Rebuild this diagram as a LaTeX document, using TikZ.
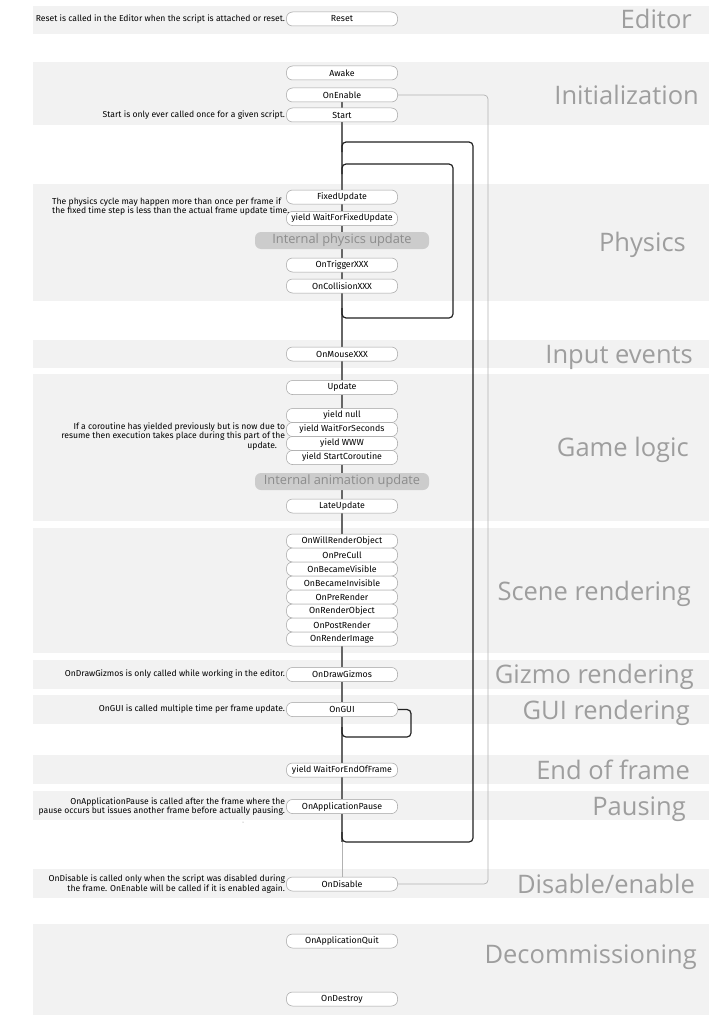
\documentclass[tikz,border=0pt]{standalone}
\usepackage{fontspec}
\setmainfont{Fira Sans}
\newfontfamily\stagefont{Open Sans}
\usetikzlibrary{calc}
\usetikzlibrary{positioning}
\colorlet{bandbg}{black!5}
\colorlet{boxedge}{black!37}
\colorlet{wiregray}{black!60}
\colorlet{cyclegray}{black!87}
\colorlet{togglegray}{black!30}
\colorlet{internalbg}{black!20}
\colorlet{stagegray}{black!38}
\pgfdeclarelayer{back}
\pgfdeclarelayer{wires}
\pgfsetlayers{back,wires,main}

\begin{document}
\begin{tikzpicture}[x=1pt,y=-1pt,
    fn/.style={draw=boxedge,line width=0.5pt,fill=white,rounded corners=6pt,
      minimum width=111pt,minimum height=14pt,inner sep=0pt,
      font=\fontsize{8.8}{10}\selectfont},
    internal/.style={fill=internalbg,rounded corners=6pt,minimum width=174pt,
      minimum height=17pt,inner sep=0pt,text=black!45,
      font=\stagefont\fontsize{12.8}{14}\selectfont},
    note/.style={anchor=east,align=right,inner sep=1pt,
      font=\fontsize{8.6}{9.8}\selectfont},
    stage/.style={anchor=base east,inner sep=0pt,text=stagegray,
      font=\stagefont\fontsize{25.5}{28}\selectfont},
    mainwire/.style={draw=wiregray,line width=1.1pt},
    cyclewire/.style={draw=cyclegray,line width=1.2pt,rounded corners=4pt},
    enablewire/.style={draw=togglegray,line width=0.7pt,rounded corners=4pt}]
  \useasboundingbox (0,0) rectangle (726,1022);
  % Background bands
  \begin{pgfonlayer}{back}
    \foreach \top/\bot in {6/34,62/125,184/301,340/368,374/521,528/653,
        660/689,695/724,755/784,791/820,869/898,924/1015}
      \fill[bandbg] (33,\top) rectangle (709,\bot);
  \end{pgfonlayer}
  % Stage titles
  \foreach \x/\y/\t [count=\i] in {692/19/Editor,699/95/Initialization,
      686/242/Physics,693/354/Input events,689/447/Game logic,
      691/591/Scene rendering,694/674/Gizmo rendering,690/710/GUI rendering,
      690/770/End of frame,686/806/Pausing,695/884/{Disable/enable},
      697/954/Decommissioning}
    \node[stage] (stage\i) at (\x,\y+9.1) {\t};
  % Functions
  \node[fn] (Reset) at (342,19) {Reset};
  \node[fn] (Awake) at (342,73) {Awake};
  \node[fn] (OnEnable) at (342,95) {OnEnable};
  \node[fn] (Start) at (342,115) {Start};
  \node[fn] (FixedUpdate) at (342,197) {FixedUpdate};
  \node[fn] (WaitFixed) at (342,218.5) {yield WaitForFixedUpdate};
  \node[internal] (IntPhysics) at (342,240.5) {Internal physics update};
  \node[fn] (OnTrigger) at (342,265) {OnTriggerXXX};
  \node[fn] (OnCollision) at (342,286) {OnCollisionXXX};
  \node[fn] (OnMouse) at (342,354) {OnMouseXXX};
  \node[fn] (Update) at (342,387.5) {Update};
  \node[fn] (YieldNull) at (342,415.5) {yield null};
  \node[fn] (YieldSeconds) at (342,429.5) {yield WaitForSeconds};
  \node[fn] (YieldWWW) at (342,443.5) {yield WWW};
  \node[fn] (YieldCoroutine) at (342,457.5) {yield StartCoroutine};
  \node[internal] (IntAnim) at (342,481.5) {Internal animation update};
  \node[fn] (LateUpdate) at (342,506) {LateUpdate};
  \foreach \f [count=\i from 0] in {OnWillRenderObject,OnPreCull,
      OnBecameVisible,OnBecameInvisible,OnPreRender,OnRenderObject,
      OnPostRender,OnRenderImage}
    \node[fn] (\f) at (342,541+14*\i) {\f};
  \node[fn] (OnDrawGizmos) at (342,674.5) {OnDrawGizmos};
  \node[fn] (OnGUI) at (342,709.5) {OnGUI};
  \node[fn] (WaitEndFrame) at (342,770) {yield WaitForEndOfFrame};
  \node[fn] (OnAppPause) at (342,806.5) {OnApplicationPause};
  \node[fn] (OnDisable) at (342,884) {OnDisable};
  \node[fn] (OnAppQuit) at (342,941) {OnApplicationQuit};
  \node[fn] (OnDestroy) at (342,999) {OnDestroy};
  % Notes
  \node[note] (noteReset) at (Reset.west)
    {Reset is called in the Editor when the script is attached or reset.};
  \node[note] (noteStart) at (Start.west)
    {Start is only ever called once for a given script.};
  \node[note,anchor=west,align=left] (notePhysics) at (51,206.5)
    {The physics cycle may happen more than once per frame if\\
     the fixed time step is less than the actual frame update time.};
  \node[note] (noteCoroutine) at ($(YieldSeconds.west)!0.5!(YieldWWW.west)$)
    {If a coroutine has yielded previously but is now due to\\
     resume then execution takes place during this part of the\\
     update.\hspace*{8pt}};
  \node[note] (noteGizmos) at (OnDrawGizmos.west)
    {OnDrawGizmos is only called while working in the editor.};
  \node[note] (noteGUI) at (OnGUI.west)
    {OnGUI is called multiple time per frame update.};
  \node[note] (notePause) at (OnAppPause.west)
    {OnApplicationPause is called after the frame where the\\
     pause occurs but issues another frame before actually pausing.};
  \node[note] (noteDisable) at (OnDisable.west)
    {OnDisable is called only when the script was disabled during\\
     the frame. OnEnable will be called if it is enabled again.};
  \fill[black!50] (243,822) circle (0.5pt);
  % Loop corners
  \coordinate (frameNW) at (342,142);
  \coordinate (frameNE) at (473,142);
  \coordinate (frameSE) at (473,842);
  \coordinate (frameSW) at (342,842);
  \coordinate (physNW) at (342,164);
  \coordinate (physNE) at (453,164);
  \coordinate (physSE) at (453,318);
  \coordinate (physSW) at (342,318);
  \coordinate (guiNE) at (411,709.5);
  \coordinate (guiSE) at (411,737);
  \coordinate (guiSW) at (342,737);
  \coordinate (toggleN) at (488,95);
  \coordinate (toggleS) at (488,884);
  % Wires
  \begin{pgfonlayer}{wires}
    \draw[mainwire] (OnEnable) -- (Start) -- (FixedUpdate) -- (WaitFixed)
      -- (IntPhysics) -- (OnTrigger) -- (OnCollision) -- (OnMouse)
      -- (Update) -- (YieldNull) -- (YieldCoroutine) -- (IntAnim)
      -- (LateUpdate) -- (OnWillRenderObject) -- (OnRenderImage)
      -- (OnDrawGizmos) -- (OnGUI) -- (WaitEndFrame) -- (OnAppPause)
      -- (frameSW);
    \draw[enablewire] (frameSW) -- (OnDisable);
    \draw[cyclewire] ($(frameSW)+(0,-10)$) -- (frameSW) -- (frameSE)
      -- (frameNE) -- (frameNW) -- ++(0,10);
    \draw[cyclewire] ($(physSW)+(0,-10)$) -- (physSW) -- (physSE)
      -- (physNE) -- (physNW) -- ++(0,10);
    \draw[cyclewire] (OnGUI.east) -- (guiNE) -- (guiSE) -- (guiSW)
      -- ++(0,-10);
    \draw[enablewire] (OnDisable.east) -- (toggleS) -- (toggleN)
      -- (OnEnable.east);
  \end{pgfonlayer}
\end{tikzpicture}
\end{document}
